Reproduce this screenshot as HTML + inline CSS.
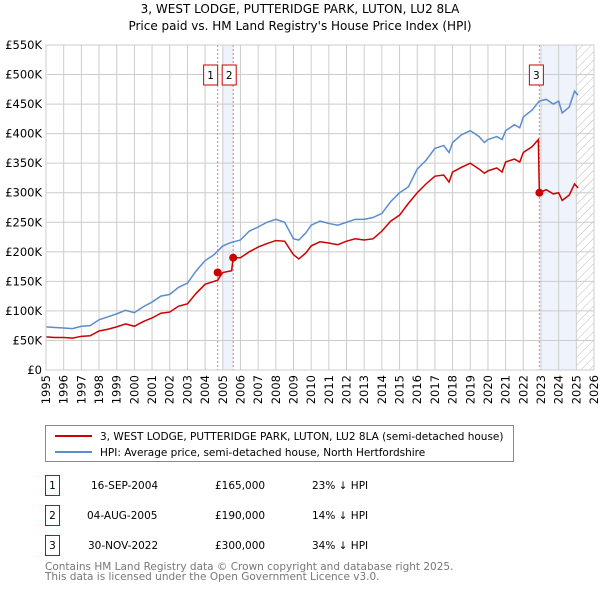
<!DOCTYPE html>
<html><head><meta charset="utf-8"><style>
body{margin:0;background:#fff;font-family:"DejaVu Sans","Liberation Sans",sans-serif;}
svg text{font-family:"DejaVu Sans","Liberation Sans",sans-serif;}
</style></head><body>
<svg id="c" width="600" height="590" xmlns="http://www.w3.org/2000/svg">
<defs><pattern id="h" width="6" height="6" patternUnits="userSpaceOnUse" patternTransform="rotate(45)"><line x1="0" y1="0" x2="0" y2="6" stroke="#bbb" stroke-width="1"/></pattern></defs>
<text x="300" y="13" text-anchor="middle" font-size="12">3, WEST LODGE, PUTTERIDGE PARK, LUTON, LU2 8LA</text>
<text x="300" y="30" text-anchor="middle" font-size="12">Price paid vs. HM Land Registry's House Price Index (HPI)</text>
<g id="plot"></g>
<g>
<rect x="45.5" y="425.5" width="468" height="36" fill="#fff" stroke="#888"/>
<line x1="55" y1="436" x2="92" y2="436" stroke="#cc0000" stroke-width="2"/>
<text x="100" y="440" font-size="10.5">3, WEST LODGE, PUTTERIDGE PARK, LUTON, LU2 8LA (semi-detached house)</text>
<line x1="55" y1="452" x2="92" y2="452" stroke="#5b8ccf" stroke-width="2"/>
<text x="100" y="456" font-size="10.5">HPI: Average price, semi-detached house, North Hertfordshire</text>
</g>
<g font-size="10.5">
<rect x="45.5" y="475.5" width="14" height="20" fill="#fff" stroke="#cc0000"/><text x="52.5" y="489" text-anchor="middle">1</text>
<text x="91" y="489">16-SEP-2004</text><text x="215" y="489">£165,000</text><text x="312" y="489">23% ↓ HPI</text>
<rect x="45.5" y="505.5" width="14" height="20" fill="#fff" stroke="#cc0000"/><text x="52.5" y="519" text-anchor="middle">2</text>
<text x="87" y="519">04-AUG-2005</text><text x="215" y="519">£190,000</text><text x="312" y="519">14% ↓ HPI</text>
<rect x="45.5" y="535.5" width="14" height="20" fill="#fff" stroke="#cc0000"/><text x="52.5" y="549" text-anchor="middle">3</text>
<text x="88" y="549">30-NOV-2022</text><text x="215" y="549">£300,000</text><text x="312" y="549">34% ↓ HPI</text>
</g>
<text x="45" y="570" font-size="10.5" fill="#777">Contains HM Land Registry data © Crown copyright and database right 2025.</text>
<text x="45" y="580" font-size="10.5" fill="#777">This data is licensed under the Open Government Licence v3.0.</text>
</svg>
<script>
const years=[1995,1996,1997,1998,1999,2000,2001,2002,2003,2004,2005,2006,2007,2008,2009,2010,2011,2012,2013,2014,2015,2016,2017,2018,2019,2020,2021,2022,2023,2024,2025,2026];
const yTicks=[0,50,100,150,200,250,300,350,400,450,500,550];
const hpiT=[1995,1995.5,1996,1996.5,1997,1997.5,1998,1998.5,1999,1999.5,2000,2000.5,2001,2001.5,2002,2002.5,2003,2003.5,2004,2004.5,2005,2005.4,2006,2006.5,2007,2007.5,2008,2008.5,2009,2009.3,2009.7,2010,2010.5,2011,2011.5,2012,2012.5,2013,2013.5,2014,2014.5,2015,2015.5,2016,2016.5,2017,2017.5,2017.8,2018,2018.5,2019,2019.5,2019.8,2020,2020.5,2020.8,2021,2021.5,2021.8,2022,2022.5,2022.9,2023.3,2023.7,2024,2024.2,2024.6,2024.9,2025.1];
const hpiV=[73,72,71,70,74,75,85,90,95,101,97,107,115,125,128,140,147,168,185,195,210,215,220,235,242,250,255,250,222,220,232,245,252,248,245,250,255,255,258,265,285,300,310,340,355,375,380,368,385,398,405,395,385,390,395,390,405,415,410,428,440,455,458,450,455,435,445,472,465];
const redT=[1995,1995.5,1996,1996.5,1997,1997.5,1998,1998.5,1999,1999.5,2000,2000.5,2001,2001.5,2002,2002.5,2003,2003.5,2004,2004.71,2005,2005.5,2005.59,2006,2006.5,2007,2007.5,2008,2008.5,2009,2009.3,2009.7,2010,2010.5,2011,2011.5,2012,2012.5,2013,2013.5,2014,2014.5,2015,2015.5,2016,2016.5,2017,2017.5,2017.8,2018,2018.5,2019,2019.5,2019.8,2020,2020.5,2020.8,2021,2021.5,2021.8,2022,2022.5,2022.85,2022.91,2023.3,2023.7,2024,2024.2,2024.6,2024.9,2025.1];
const redV=[56,55,55,54,57,58,66,69,73,78,74,82,88,96,98,108,112,130,145,152,165,168,190,190,200,208,214,219,218,195,188,198,210,217,215,212,218,222,220,222,235,252,262,282,300,315,328,330,318,335,343,350,340,333,337,342,335,352,357,352,368,378,390,300,305,298,300,287,296,315,308];
const sales=[{t:2004.71,v:165,n:'1'},{t:2005.59,v:190,n:'2'},{t:2022.91,v:300,n:'3'}];
const x0=46,x1=594,yTop=45,yBot=370;
const X=t=>x0+(t-1995)/(2026-1995)*(x1-x0);
const Y=v=>yBot-v/550*(yBot-yTop);
const NS='http://www.w3.org/2000/svg';
const g=document.getElementById('plot');
function mk(tag,a){const e=document.createElementNS(NS,tag);for(const k in a)e.setAttribute(k,a[k]);g.appendChild(e);return e;}
let e;
e=mk('rect',{x:X(2005),y:yTop,width:X(2005.59)-X(2005),height:yBot-yTop,fill:'#eef3fc'});


e=mk('rect',{x:X(2023),y:yTop,width:X(2025)-X(2023),height:yBot-yTop,fill:'#eef3fc'});


e=mk('rect',{x:X(2025),y:yTop,width:x1-X(2025),height:yBot-yTop,fill:'url(#h)'});


yTicks.forEach(v=>{
 e=mk('line',{x1:x0,x2:x1,y1:Y(v),y2:Y(v),stroke:'#ccc'});
 
 
 e=mk('text',{x:x0-4,y:Y(v)+4,'text-anchor':'end','font-size':'11.5'});e.textContent='£'+(v?v+'K':'0');
 
 
});
years.forEach(yv=>{
 e=mk('line',{x1:X(yv),x2:X(yv),y1:yTop,y2:yBot,stroke:'#ccc'});
 
 
 e=mk('text',{x:0,y:0,'font-size':'11.5','text-anchor':'end',transform:`translate(${X(yv)+4},${yBot+5}) rotate(-90)`});e.textContent=yv;
 
 
});
sales.forEach(s=>{
 e=mk('line',{x1:X(s.t),x2:X(s.t),y1:yTop,y2:yBot,stroke:'#f07070','stroke-dasharray':'2,2'});
 
 
});
e=mk('polyline',{points:hpiT.map((t,i)=>X(t)+','+Y(hpiV[i])).join(' '),fill:'none',stroke:'#5b8ccf','stroke-width':1.5});


e=mk('polyline',{points:redT.map((t,i)=>X(t)+','+Y(redV[i])).join(' '),fill:'none',stroke:'#cc0000','stroke-width':1.5});


sales.forEach((s,i)=>{
 e=mk('circle',{cx:X(s.t),cy:Y(s.v),r:4,fill:'#cc0000'});
 
 
 const bx=X(s.t)-(i==0?14:i==1?11:10);
 e=mk('rect',{x:bx,y:65,width:14,height:20,fill:'#fff',stroke:'#cc0000'});
 
 
 e=mk('text',{x:bx+7,y:79,'text-anchor':'middle','font-size':'10.5'});e.textContent=s.n;
 
 
});
e=mk('rect',{x:x0,y:yTop,width:x1-x0,height:yBot-yTop,fill:'none',stroke:'#ccc'});


</script>
</body></html>
